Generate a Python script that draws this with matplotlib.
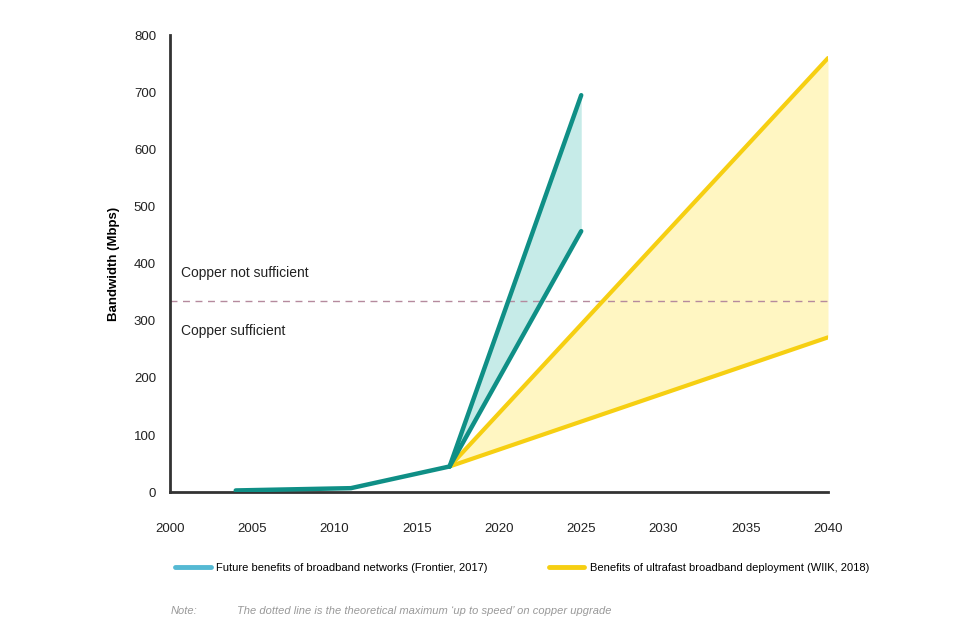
import matplotlib
matplotlib.use("Agg")
import matplotlib.pyplot as plt
from matplotlib.lines import Line2D

plt.rcParams["font.family"] = ["Liberation Sans", "DejaVu Sans"]

# shared history (teal)
hist_years = [2004, 2011, 2017]
hist_vals = [3, 7, 45]

# Frontier 2017 forecast
frontier_years = [2017, 2025]
frontier_high = [45, 695]
frontier_low = [45, 457]

# WIIK 2018 forecast
wiik_years = [2017, 2040]
wiik_high = [45, 760]
wiik_low = [45, 271]

copper_max = 334

x_ticks = [2000, 2005, 2010, 2015, 2020, 2025, 2030, 2035, 2040]
y_ticks = [0, 100, 200, 300, 400, 500, 600, 700, 800]

TEAL = "#0f8f86"
TEAL_FILL = "#c6ebe8"
TEAL_LEG = "#55b9d3"
YELLOW = "#f6cf12"
YELLOW_FILL = "#fff6c2"

fig = plt.figure(figsize=(9.6, 6.4), dpi=100)
ax = fig.add_axes([0.177, 0.231, 0.6855, 0.714])

ax.fill_between(wiik_years, wiik_low, wiik_high, color=YELLOW_FILL, lw=0, zorder=1)
ax.fill_between(frontier_years, frontier_low, frontier_high, color=TEAL_FILL, lw=0, zorder=1)

ax.axhline(copper_max, color="#b58a9e", lw=1, ls=(0, (5, 4)), zorder=2)

ax.plot(wiik_years, wiik_high, color=YELLOW, lw=3, solid_capstyle="round", zorder=3)
ax.plot(wiik_years, wiik_low, color=YELLOW, lw=3, solid_capstyle="round", zorder=3)
ax.plot(frontier_years, frontier_high, color=TEAL, lw=3.2, solid_capstyle="round", zorder=4)
ax.plot(frontier_years, frontier_low, color=TEAL, lw=3.2, solid_capstyle="round", zorder=4)
ax.plot(hist_years, hist_vals, color=TEAL, lw=3.2, solid_capstyle="round",
        solid_joinstyle="round", zorder=4)

ax.text(2000.65, 384, "Copper not sufficient", fontsize=10, va="center", color="#222222")
ax.text(2000.65, 282, "Copper sufficient", fontsize=10, va="center", color="#222222")

ax.set_xlim(2000, 2040)
ax.set_ylim(0, 800)
ax.set_xticks(x_ticks)
ax.set_yticks(y_ticks)
ax.tick_params(axis="both", length=0, labelsize=9.5, colors="#222222")
ax.tick_params(axis="x", pad=22)
ax.tick_params(axis="y", pad=10, labelsize=9.5)
for s in ["top", "right"]:
    ax.spines[s].set_visible(False)
for s in ["left", "bottom"]:
    ax.spines[s].set_color("#333333")
    ax.spines[s].set_linewidth(2)
ax.set_ylabel("Bandwidth (Mbps)", fontsize=9.5, fontweight="bold", labelpad=10)

handles = [
    Line2D([0], [0], color=TEAL_LEG, lw=3.5, solid_capstyle="round"),
    Line2D([0], [0], color=YELLOW, lw=3.5, solid_capstyle="round"),
]
labels = [
    "Future benefits of broadband networks (Frontier, 2017)",
    "Benefits of ultrafast broadband deployment (WIIK, 2018)",
]
fig.legend(handles, labels, loc="center left", bbox_to_anchor=(0.172, 0.113),
           ncol=2, frameon=False, fontsize=8, handlelength=3.2, columnspacing=5.5,
           handletextpad=0.5)

fig.text(0.178, 0.045, "Note:", fontsize=8, style="italic", color="#999999", va="center")
fig.text(0.247, 0.045,
         "The dotted line is the theoretical maximum \u2018up to speed\u2019 on copper upgrade",
         fontsize=8, style="italic", color="#999999", va="center")

fig.savefig("out.png", dpi=100)
